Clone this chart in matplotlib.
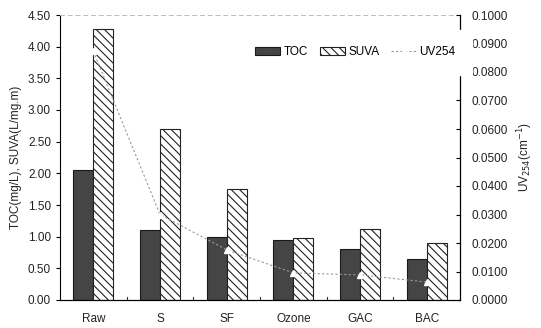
import matplotlib
matplotlib.use("Agg")
import matplotlib.pyplot as plt
import numpy as np

plt.rcParams['font.family'] = ['Liberation Sans', 'DejaVu Sans']
plt.rcParams['hatch.linewidth'] = 0.8

categories = ["Raw", "S", "SF", "Ozone", "GAC", "BAC"]
toc = [2.05, 1.10, 1.00, 0.95, 0.80, 0.65]
suva = [4.28, 2.70, 1.75, 0.98, 1.12, 0.90]
uv254 = [0.0873, 0.0300, 0.0176, 0.0095, 0.0088, 0.0063]
left_ticks = [0.00, 0.50, 1.00, 1.50, 2.00, 2.50, 3.00, 3.50, 4.00, 4.50]
right_ticks = [0.0, 0.01, 0.02, 0.03, 0.04, 0.05, 0.06, 0.07, 0.08, 0.09, 0.10]

fig = plt.figure(figsize=(5.41, 3.28), dpi=100)
ax = fig.add_axes([60/541, 28/328, 400/541, 285/328])
x = np.arange(len(categories))
w = 0.3
b1 = ax.bar(x - w/2, toc, w, color="#454545", edgecolor="#1a1a1a", linewidth=0.8, label="TOC", zorder=2)
b2 = ax.bar(x + w/2, suva, w, color="white", edgecolor="#222222", hatch="\\\\\\\\", linewidth=0.8, label="SUVA", zorder=2)
ax.set_xlim(-0.5, 5.5)
ax.set_ylim(0, 4.5)
ax.set_yticks(left_ticks)
ax.set_yticklabels([f"{v:.2f}" for v in left_ticks], fontsize=8.5, color="#222222")
ax.set_xticks(x)
ax.set_xticklabels(categories, fontsize=8.5, color="#222222")
ax.tick_params(axis='x', length=0, pad=9)
for xm in np.arange(0.5, 5.5, 1.0):
    ax.plot([xm, xm], [0, 0.04], color="#333333", lw=0.8, zorder=3)
ax.tick_params(axis='y', direction='out', length=3, width=0.8)
ax.set_ylabel("TOC(mg/L), SUVA(L/mg.m)", fontsize=8.5, color="#222222")
ax.spines['top'].set_color("#bbbbbb")
ax.spines['top'].set_linestyle((0, (4, 4)))
ax.spines['top'].set_linewidth(0.7)
ax.spines['right'].set_visible(False)

ax2 = ax.twinx()
l1, = ax2.plot(x, uv254, color="#999999", lw=0.8, linestyle=(0, (2, 2)), marker="^",
               markersize=5, markerfacecolor="white", markeredgecolor="white", label="UV254", zorder=3)
ax2.set_ylim(0, 0.1)
ax2.set_yticks(right_ticks)
ax2.set_yticklabels([f"{v:.4f}" for v in right_ticks], fontsize=8.5, color="#222222")
ax2.tick_params(axis='y', direction='in', length=3, width=0.8, pad=8)
ax2.set_ylabel("UV$_{254}$(cm$^{-1}$)", fontsize=8.5, color="#222222", labelpad=6)
ax2.spines['top'].set_visible(False)
ax2.spines['left'].set_visible(False)
ax2.spines['right'].set_linewidth(0.9)

leg = ax2.legend([b1, b2, l1], ["TOC", "SUVA", "UV254"], loc="center right",
                 bbox_to_anchor=(1.045, 0.87), ncol=3, frameon=True, fontsize=8.5,
                 handlelength=2.1, handleheight=0.6, handletextpad=0.3, columnspacing=1.0,
                 borderpad=1.4)
leg.get_frame().set_edgecolor("white")
leg.get_frame().set_facecolor("white")
leg.get_frame().set_alpha(1)
leg.set_zorder(10)

fig.savefig("out.png", dpi=100)
